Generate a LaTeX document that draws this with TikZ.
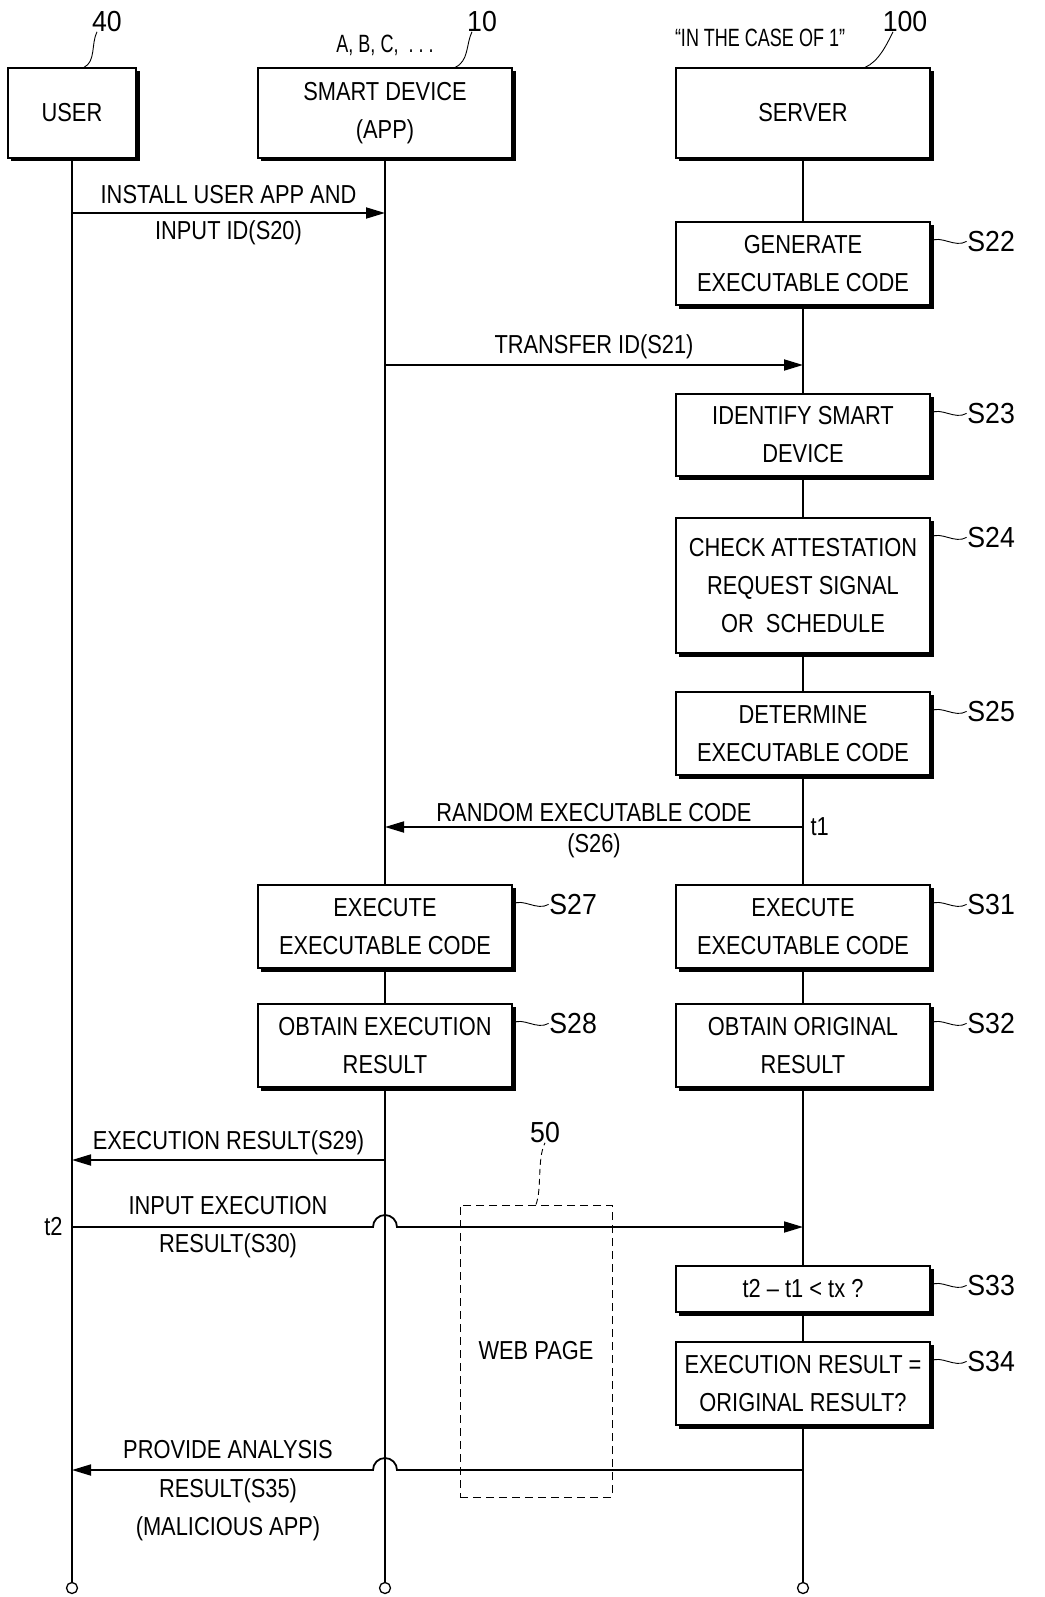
\documentclass[tikz,border=0pt]{standalone}
\usepackage{fontspec}
\setmainfont{Liberation Sans}[FakeStretch=0.84]
\newfontfamily\labelfont{Liberation Sans}[FakeStretch=0.92]
\newfontfamily\casefont{Liberation Sans}[FakeStretch=0.72]
\usetikzlibrary{arrows.meta,backgrounds,positioning}
\tikzset{
    actor/.style={draw,line width=1.2pt,fill=white,align=center,inner sep=0pt,
        minimum width=254pt,minimum height=90pt},
    stepbox/.style={actor,minimum height=83pt},
    web/.style={draw,line width=1pt,dash pattern=on 8pt off 5pt,
        minimum width=152pt,minimum height=292pt,inner sep=0pt},
    endpt/.style={circle,draw,line width=1.3pt,fill=white,inner sep=0pt,minimum size=11pt},
    life/.style={line width=1.8pt},
    msg/.style={line width=1.8pt,-{Triangle[length=19pt,width=11pt]}},
    lead/.style={line width=0.9pt},
    numlabel/.style={font=\fontsize{29}{34}\labelfont},
    casetext/.style={font=\fontsize{25}{30}\casefont},
}
\begin{document}
\begin{tikzpicture}[x=1pt,y=-1pt,font=\fontsize{26}{38}\selectfont]
        \useasboundingbox (0,0) rectangle (1044,1597);
        %% actors
        \node[actor,minimum width=128pt] (user) at (72,113) {USER};
        \node[actor] (device) at (385,113) {SMART DEVICE\\(APP)};
        \node[actor] (server) at (803,113) {SERVER};
        \node[endpt] (uend) at (72,1588) {};
        \node[endpt] (dend) at (385,1588) {};
        \node[endpt] (send) at (803,1588) {};
        %% reference numerals
        \node[numlabel] (n40) at (107,22) {40};
        \node[numlabel] (n10) at (482,22) {10};
        \node[casetext] (abc) at (385,45) {A, B, C,\ \ .\ .\ .};
        \node[casetext] (case) at (760,38) {“IN THE CASE OF 1”};
        \node[numlabel] (n100) at (905,22) {100};
        \draw[lead] ([xshift=12pt]user.north) .. controls +(12,-6) and +(-6,12) .. ([xshift=-10pt,yshift=4pt]n40.south);
        \draw[lead] ([xshift=70pt]device.north) .. controls +(14,-6) and +(-6,12) .. ([xshift=-10pt,yshift=4pt]n10.south);
        \draw[lead] ([xshift=62pt]server.north) .. controls +(14,-6) and +(-6,12) .. ([xshift=-12pt,yshift=4pt]n100.south);
        %% server steps
        \node[stepbox] (s22) at (803,263.5) {GENERATE\\EXECUTABLE CODE};
        \node[stepbox,minimum height=82pt] (s23) at (803,435) {IDENTIFY SMART\\DEVICE};
        \node[stepbox,minimum height=135pt] (s24) at (803,585.5) {CHECK ATTESTATION\\REQUEST SIGNAL\\OR\ \ SCHEDULE};
        \node[stepbox] (s25) at (803,733.5) {DETERMINE\\EXECUTABLE CODE};
        \node[stepbox] (s31) at (803,926.5) {EXECUTE\\EXECUTABLE CODE};
        \node[stepbox] (s32) at (803,1045.5) {OBTAIN ORIGINAL\\RESULT};
        \node[stepbox,minimum height=46pt] (s33) at (803,1289) {t2 -- t1 < tx ?};
        \node[stepbox] (s34) at (803,1383.5) {EXECUTION RESULT =\\ORIGINAL RESULT?};
        %% device steps
        \node[stepbox] (s27) at (385,926.5) {EXECUTE\\EXECUTABLE CODE};
        \node[stepbox] (s28) at (385,1045.5) {OBTAIN EXECUTION\\RESULT};
        %% shadows
        \foreach \b in {user,device,server,s22,s23,s24,s25,s27,s28,s31,s32,s33,s34}
            \draw[line width=2.6pt] ([shift={(1.6pt,-4pt)}]\b.north east) -- ([shift={(1.6pt,-1.6pt)}]\b.south east)
                -- ([shift={(4pt,-1.6pt)}]\b.south west);
        \foreach \b/\t in {s22/S22,s23/S23,s24/S24,s25/S25,s27/S27,s28/S28,s31/S31,s32/S32,s33/S33,s34/S34} {
            \draw[lead] ([yshift=-20pt]\b.north east) .. controls +(10,-7) and +(-12,7) .. ++(36,0)
                node[numlabel,right=-3pt] (l\t) {\t};
        }
        %% web page
        \node[web] (web) at (536,1351) {WEB PAGE};
        \node[numlabel] (n50) at (545,1133) {50};
        \draw[lead,dash pattern=on 6pt off 4pt] (web.north) .. controls +(6,-16) and +(-8,16) .. ([yshift=4pt]n50.south);
        %% lifelines
        \begin{scope}[on background layer]
            \draw[life] (user) -- (uend);
            \draw[life] (device) -- (dend);
            \draw[life] (server) -- (send);
        \end{scope}
        %% messages
        \draw[msg] (user |- 0,213) -- (device |- 0,213)
            node[midway,above=5pt] (t20a) {INSTALL USER APP AND}
            node[midway,below=3pt] (t20b) {INPUT ID(S20)};
        \draw[msg] (device |- 0,365) -- (server |- 0,365)
            node[midway,above=2pt] (t21) {TRANSFER ID(S21)};
        \draw[msg] (server |- 0,827) -- (device |- 0,827)
            node[midway,above=1pt] (t26a) {RANDOM EXECUTABLE CODE}
            node[midway,below=2pt] (t26b) {(S26)};
        \node[right=4pt] (t1) at (server |- 0,827) {t1};
        \draw[msg] (device |- 0,1160) -- (user |- 0,1160)
            node[midway,above=1pt] (t29) {EXECUTION RESULT(S29)};
        \draw[msg] (user |- 0,1227) -- (373,1227) arc[start angle=180,end angle=0,radius=12pt] -- (server |- 0,1227);
        \node[left=6pt] (t2) at (user |- 0,1227) {t2};
        \node (t30a) at (228,1206) {INPUT EXECUTION};
        \node (t30b) at (228,1246) {RESULT(S30)};
        \draw[msg] (server |- 0,1470) -- (397,1470) arc[start angle=0,end angle=180,radius=12pt] -- (user |- 0,1470);
        \node (t35a) at (228,1450) {PROVIDE ANALYSIS};
        \node[align=center] (t35b) at (228,1510) {RESULT(S35)\\(MALICIOUS APP)};
    \end{tikzpicture}
\end{document}
